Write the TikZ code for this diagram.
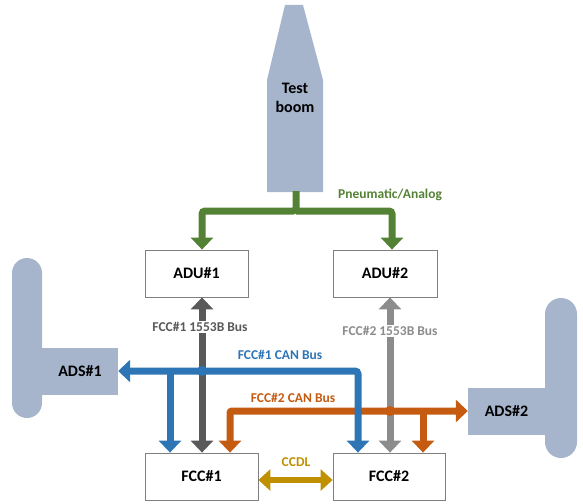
\documentclass[tikz,border=0pt]{standalone}
\usepackage{fontspec}
\setmainfont{Carlito}
\usetikzlibrary{arrows.meta,calc}
\definecolor{sensfill}{RGB}{166,181,204}
\definecolor{pneu}{RGB}{84,130,53}
\definecolor{canA}{RGB}{46,117,182}
\definecolor{canB}{RGB}{197,90,17}
\definecolor{busA}{RGB}{89,89,89}
\definecolor{busB}{RGB}{140,140,140}
\definecolor{ccdl}{RGB}{191,144,0}
\definecolor{boxline}{RGB}{127,127,127}
\begin{document}
\begin{tikzpicture}[x=1pt,y=-1pt,
  unitbox/.style={draw=boxline,line width=0.8pt,fill=white,minimum height=47pt,
    font=\bfseries\fontsize{16}{18}\selectfont,inner sep=0pt},
  sensbox/.style={fill=sensfill,minimum height=47pt,inner sep=0pt,
    font=\bfseries\fontsize{16}{18}\selectfont},
  buslabel/.style={font=\bfseries\fontsize{13.5}{15}\selectfont,inner sep=1pt},
  fatline/.style={line width=7pt,
    arrows={-Triangle[width=22pt,length=12pt]}},
  fatlinetwo/.style={line width=7pt,
    arrows={Triangle[width=22pt,length=12pt]-Triangle[width=22pt,length=12pt]}},
  linkline/.style={line width=6pt,
    arrows={Triangle[width=21pt,length=12pt]-Triangle[width=21pt,length=12pt]}},
]
\useasboundingbox (0,0) rectangle (583,503);

% ---- test boom ----
\fill[sensfill] (285,5) -- (303,5) -- (323,80) -- (323,192) -- (267,192) -- (267,80) -- cycle;
\node[align=center,font=\bfseries\fontsize{16}{19}\selectfont] (boom) at (295,98) {Test\\boom};
\coordinate (boombase) at (296,191);

% ---- air data sensors ----
\fill[sensfill,rounded corners=15pt] (12,258) rectangle (42,418);
\fill[sensfill] (36,348) rectangle (44,395);
\node[sensbox,minimum width=76pt] (ads1) at (80,371.5) {ADS\#1};
\fill[sensfill,rounded corners=16pt] (545,298) rectangle (577,458);
\fill[sensfill] (542,388) rectangle (551,435);
\node[sensbox,minimum width=77pt] (ads2) at (506.5,411.5) {ADS\#2};

% ---- units ----
\node[unitbox,minimum width=103pt] (adu1) at (196.5,273.5) {ADU\#1};
\node[unitbox,minimum width=104pt] (adu2) at (385,273.5) {ADU\#2};
\node[unitbox,minimum width=113pt] (fcc1) at (201.5,476.5) {FCC\#1};
\node[unitbox,minimum width=112pt] (fcc2) at (389,476.5) {FCC\#2};

% ---- routing columns and rows ----
\coordinate (xb1) at (170,0);
\coordinate (xg1) at (202,0);
\coordinate (xo1) at (230,0);
\coordinate (xb2) at (358,0);
\coordinate (xg2) at (390,0);
\coordinate (xo2) at (423,0);
\coordinate (xpL) at (202,0);
\coordinate (xpR) at (392,0);
\coordinate (rpn) at (0,211);
\coordinate (rcanA) at (0,371);
\coordinate (rcanB) at (0,411);

% ---- pneumatic / analog lines ----
\draw[pneu,fatline,rounded corners=3pt]
  (boombase) |- (xpL |- rpn) -- (xpL |- adu1.north);
\draw[pneu,fatline,rounded corners=3pt]
  (boombase |- rpn) -| (xpR |- adu2.north);
\node[buslabel,text=pneu] (pnlab) at (390,195) {Pneumatic/Analog};

% ---- 1553B buses ----
\draw[busA,fatlinetwo] (xg1 |- fcc1.north) -- (xg1 |- adu1.south);
\node[buslabel,fill=white,text=busA] (b1lab) at (200,327) {FCC\#1 1553B Bus};
\draw[busB,fatlinetwo] (xg2 |- fcc2.north) -- (xg2 |- adu2.south);
\node[buslabel,fill=white,text=busB] (b2lab) at (390,331) {FCC\#2 1553B Bus};

% ---- FCC#2 CAN bus ----
\draw[canB,fatlinetwo,rounded corners=2pt] (xo1 |- fcc1.north) |- (ads2.west |- rcanB);
\draw[canB,fatline] (xo2 |- rcanB) -- (xo2 |- fcc2.north);
\fill[canB] (xg2 |- rcanB) circle (5pt);
\node[buslabel,text=canB] (canBlab) at (293,398) {FCC\#2 CAN Bus};

% ---- FCC#1 CAN bus ----
\draw[canA,fatlinetwo,rounded corners=3pt] (xb2 |- fcc2.north) |- (ads1.east |- rcanA);
\draw[canA,fatline] (xb1 |- rcanA) -- (xb1 |- fcc1.north);
\fill[canA] (xg1 |- rcanA) circle (5pt);
\node[buslabel,text=canA] (canAlab) at (280,355) {FCC\#1 CAN Bus};

% ---- cross-channel data link ----
\draw[ccdl,linkline] ($(fcc1.east)+(0,3.5)$) -- ($(fcc2.west)+(0,3.5)$);
\node[buslabel,text=ccdl] (ccdllab) at (296,462) {CCDL};
\end{tikzpicture}
\end{document}
